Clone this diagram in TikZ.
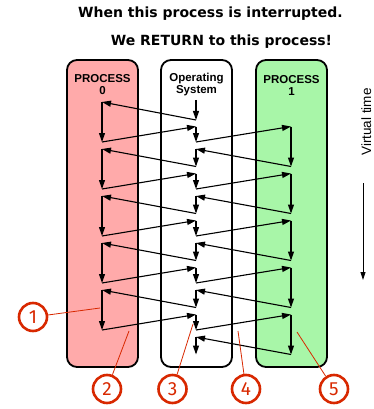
\documentclass[tikz,border=0pt]{standalone}
\usepackage{fontspec}
\setmainfont{Liberation Sans}
\newfontfamily\headfont{DejaVu Sans}
\newfontfamily\numfont{Fira Sans}
\usetikzlibrary{arrows.meta}
\definecolor{procred}{RGB}{255,170,170}
\definecolor{procgreen}{RGB}{168,246,168}
\definecolor{callred}{RGB}{216,40,0}
\tikzset{
  column/.style={draw=black, line width=1.8pt, rounded corners=10pt},
  collabel/.style={font=\fontsize{11.5}{12}\selectfont\bfseries, align=center},
  flow/.style={line width=1.1pt, -{Triangle[length=9pt,width=6pt]}},
  callout/.style={circle, draw=callred, line width=2.6pt, minimum size=28pt, inner sep=0pt,
    text=callred, font=\numfont\fontsize{19}{19}\selectfont},
  leader/.style={draw=callred, line width=0.8pt},
  headline/.style={font=\headfont\bfseries\fontsize{14}{14}\selectfont}
}
\begin{document}
\begin{tikzpicture}[x=1pt,y=-1pt]
\useasboundingbox (0,0) rectangle (373,409);

% headings
\node[headline] (h1) at (210.5,14) {When this process is interrupted.};
\node[headline] (h2) at (221.5,42) {We RETURN to this process!};

% the three columns
\draw[column, fill=procred] (67,60) rectangle (138,367);
\draw[column, fill=white] (161,60) rectangle (232,367);
\draw[column, fill=procgreen] (256,60) rectangle (327,367);
\node[collabel] (l0) at (102.5,85) {PROCESS\\0};
\node[collabel] (los) at (196.5,85) {Operating\\System};
\node[collabel] (l1) at (291.5,85) {PROCESS\\1};

% OS starts and dispatches process 0
\coordinate (os0t) at (196,100);
\coordinate (os0b) at (196,120);
\draw[flow] (os0t) -- (os0b);

\foreach \k in {0,...,4}{
  \pgfmathsetmacro\a{102+47*\k}
  \pgfmathsetmacro\b{\a+24.5}
  \coordinate (p0t\k) at (102,\a);
  \coordinate (p0b\k) at (102,\a+40);
  \coordinate (p1t\k) at (291,\b);
  \coordinate (p1b\k) at (291,\b+40);
  \coordinate (osat\k) at (196,\b);
  \coordinate (osab\k) at (196,\a+40);
  \coordinate (osbt\k) at (196,\a+47);
  \coordinate (osbb\k) at (196,\b+40);
  % process 0 runs, is interrupted, OS switches to process 1
  \draw[flow] (p0t\k) -- (p0b\k);
  \draw[flow] (p0b\k) -- (osat\k);
  \draw[flow] (osat\k) -- (osab\k);
  \draw[flow] (osab\k) -- (p1t\k);
  % process 1 runs, is interrupted, OS switches back
  \draw[flow] (p1t\k) -- (p1b\k);
  \draw[flow] (p1b\k) -- (osbt\k);
  \draw[flow] (osbt\k) -- (osbb\k);
}
\draw[flow] (os0b) -- (p0t0);
\foreach \k [evaluate=\k as \n using int(\k+1)] in {0,...,3}{
  \draw[flow] (osbb\k) -- (p0t\n);
}

% virtual time axis
\node[font=\fontsize{13.5}{14}\selectfont, rotate=90, anchor=base, inner sep=0pt] (vt) at (371,122) {Virtual time};
\coordinate (vta) at (363,183);
\coordinate (vtb) at (363,280);
\draw[line width=0.9pt, -{Triangle[length=8pt,width=5pt]}] (vta) -- (vtb);

% numbered callouts
\node[callout] (c1) at (33,317) {1};
\node[callout] (c2) at (107,389) {2};
\node[callout] (c3) at (172.5,389) {3};
\node[callout] (c4) at (246,389) {4};
\node[callout] (c5) at (334,389) {5};
\coordinate (t1) at (100,308);
\coordinate (t2) at (129,331);
\coordinate (t3) at (193,324);
\coordinate (t4) at (238,331);
\coordinate (t5) at (297,332);
\foreach \i in {1,...,5}{ \draw[leader] (c\i) -- (t\i); }
\end{tikzpicture}
\end{document}
